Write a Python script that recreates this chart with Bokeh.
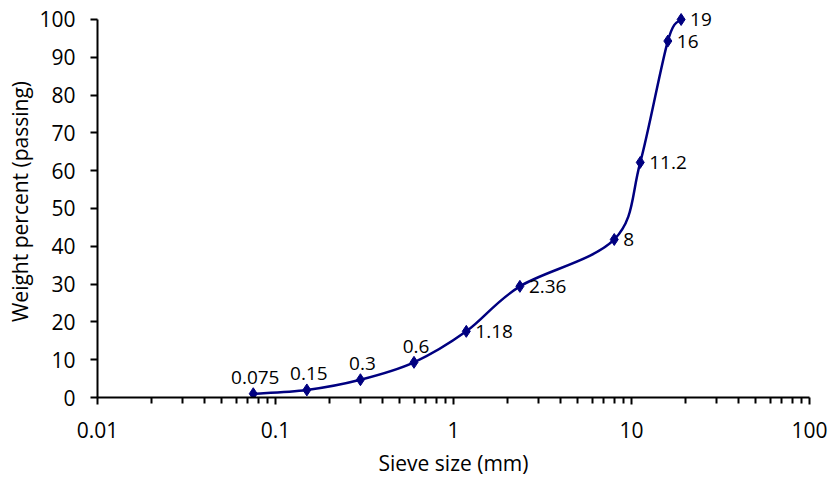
import math
from bokeh.plotting import figure
from bokeh.models import FixedTicker, ColumnDataSource, Range1d
from bokeh.core.properties import value
from bokeh.embed import file_html
from bokeh.resources import INLINE

# Data
sieve_mm = [0.075, 0.15, 0.3, 0.6, 1.18, 2.36, 8, 11.2, 16, 19]
passing = [1.0, 2.0, 4.7, 9.3, 17.5, 29.4, 41.8, 62.2, 94.3, 100.0]
point_labels = ["0.075", "0.15", "0.3", "0.6", "1.18", "2.36", "8", "11.2", "16", "19"]
x_major = [0.01, 0.1, 1, 10, 100]
x_tick_labels = ["0.01", "0.1", "1", "10", "100"]
y_ticks = list(range(0, 101, 10))

FONT = "Open Sans"
NAVY = "#000080"

p = figure(width=832, height=479, x_axis_type="log",
           x_range=Range1d(0.01, 100), y_range=Range1d(0, 103.7),
           output_backend="svg", toolbar_location=None,
           min_border_left=97, min_border_right=23,
           min_border_top=5, min_border_bottom=82)
p.outline_line_color = None
p.xgrid.visible = False
p.ygrid.visible = False
p.background_fill_color = "white"
p.border_fill_color = "white"

# Smoothed curve (Catmull-Rom style Bezier in log-x space)
lx = [math.log10(v) for v in sieve_mm]
n = len(lx)
x0, y0, x1, y1, cx0, cy0, cx1, cy1 = [], [], [], [], [], [], [], []
for i in range(n - 1):
    pa = (lx[max(i - 1, 0)], passing[max(i - 1, 0)])
    pb = (lx[i], passing[i])
    pc = (lx[i + 1], passing[i + 1])
    pd = (lx[min(i + 2, n - 1)], passing[min(i + 2, n - 1)])
    c1 = (pb[0] + (pc[0] - pa[0]) / 6, pb[1] + (pc[1] - pa[1]) / 6)
    c2 = (pc[0] - (pd[0] - pb[0]) / 6, pc[1] - (pd[1] - pb[1]) / 6)
    x0.append(sieve_mm[i]); y0.append(passing[i])
    x1.append(sieve_mm[i + 1]); y1.append(passing[i + 1])
    cx0.append(10 ** c1[0]); cy0.append(c1[1])
    cx1.append(10 ** c2[0]); cy1.append(c2[1])
p.bezier(x0=x0, y0=y0, x1=x1, y1=y1, cx0=cx0, cy0=cy0, cx1=cx1, cy1=cy1,
         line_color=NAVY, line_width=2.5)

src = ColumnDataSource(dict(x=sieve_mm, y=passing, t=point_labels))
p.scatter("x", "y", source=src, marker="diamond", size=12,
          fill_color=NAVY, line_color=NAVY)

above = ColumnDataSource(dict(x=sieve_mm[:4], y=passing[:4], t=point_labels[:4]))
right = ColumnDataSource(dict(x=sieve_mm[4:], y=passing[4:], t=point_labels[4:]))
p.text("x", "y", text="t", source=above, text_font=value(FONT),
       text_font_size="19px", text_color="black", text_align="center",
       text_baseline="alphabetic", y_offset=-16, x_offset=2)
p.text("x", "y", text="t", source=right, text_font=value(FONT),
       text_font_size="19px", text_color="black", text_align="left",
       text_baseline="middle", x_offset=9)

minor = [m * d for d in [0.01, 0.1, 1, 10] for m in range(2, 10)]
p.xaxis.ticker = FixedTicker(ticks=x_major, minor_ticks=minor)
p.xaxis.major_label_overrides = {t: s for t, s in zip(x_major, x_tick_labels)}
p.yaxis.ticker = FixedTicker(ticks=y_ticks)
p.yaxis.bounds = (0, 100)

for ax in (p.xaxis[0], p.yaxis[0]):
    ax.axis_line_color = "black"
    ax.axis_line_width = 2
    ax.major_tick_line_color = "black"
    ax.major_tick_line_width = 2
    ax.major_tick_in = 0
    ax.major_tick_out = 7
    ax.minor_tick_line_color = "black"
    ax.minor_tick_line_width = 2
    ax.minor_tick_in = 0
    ax.minor_tick_out = 6
    ax.major_label_text_font = FONT
    ax.major_label_text_font_size = "21px"
    ax.major_label_text_color = "black"
    ax.axis_label_text_font = FONT
    ax.axis_label_text_font_size = "21px"
    ax.axis_label_text_font_style = "normal"
    ax.axis_label_text_color = "black"

p.yaxis.minor_tick_line_color = None
p.xaxis.axis_label = "Sieve size (mm)"
p.yaxis.axis_label = "Weight percent (passing)"
p.xaxis.major_label_standoff = 17
p.yaxis.major_label_standoff = 15
p.xaxis.axis_label_standoff = 8
p.yaxis.axis_label_standoff = 2

open("out.html", "w").write(file_html(p, INLINE))
